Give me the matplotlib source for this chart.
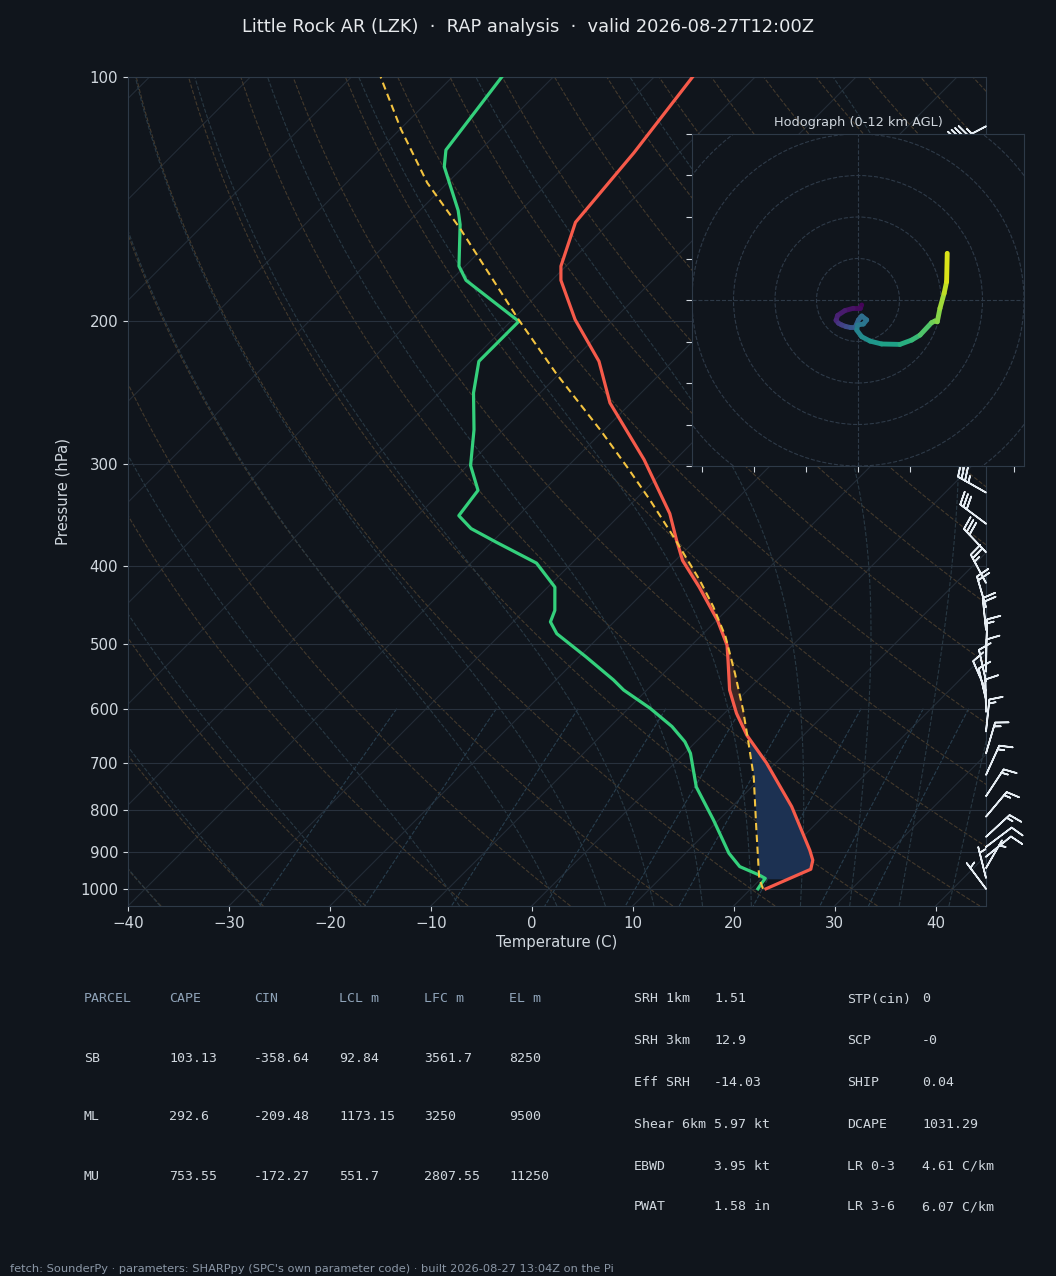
#!/usr/bin/env python3
"""Skew-T + hodograph panel for LZK (RAP analysis, valid 2026-08-27 12Z)."""
import numpy as np
import matplotlib
matplotlib.use("Agg")
import matplotlib.pyplot as plt  # noqa: E402
from matplotlib.collections import LineCollection  # noqa: E402
from matplotlib.patches import Circle  # noqa: E402
from matplotlib.ticker import NullFormatter, NullLocator, ScalarFormatter  # noqa: E402

# ── sounding data ───────────────────────────────────────────────────────────────

TEMP_P = [1000, 946, 922, 896, 792, 700, 647, 608, 569, 523, 501, 467, 425,
          394, 372, 345, 296, 252, 224, 199, 178, 171, 151, 124, 100]
TEMP_C = [21.5, 24.0, 23.3, 22.0, 15.9, 9.1, 4.4, 1.2, -1.8, -4.9, -6.5, -9.9,
          -15.0, -19.3, -21.9, -25.2, -33.1, -42.1, -47.3, -53.8, -59.1, -60.5,
          -63.4, -64.5, -66.2]

DEWP_P = [1000, 983, 971, 962, 939, 904, 823, 749, 681, 659, 631, 599, 569,
          553, 518, 485, 469, 454, 425, 397, 374, 360, 347, 323, 301, 272, 245,
          224, 200, 178, 171, 152, 146, 129, 123, 100]
DEWP_C = [20.7, 20.5, 20.4, 19.5, 16.7, 14.3, 9.5, 4.5, 0.6, -1.1, -3.9, -7.9,
          -12.3, -14.3, -19.3, -24.5, -26.3, -27.0, -29.3, -33.5, -39.6, -43.4,
          -45.9, -46.5, -49.7, -52.9, -56.6, -59.2, -59.2, -68.5, -70.6, -74.6,
          -76.2, -81.9, -83.4, -85.1]

PARCEL_P = [1000, 971, 839, 728, 656, 602, 543, 489, 449, 417, 368, 332, 302,
            272, 232, 199, 154, 135, 116, 100]
PARCEL_C = [21.2, 19.8, 14.4, 9.2, 5.0, 1.5, -2.9, -7.5, -11.7, -15.6, -22.6,
            -28.5, -34.1, -40.4, -50.3, -59.4, -74.1, -82.0, -89.9, -97.1]

# wind profile (kt), heights AGL (km) for the hodograph colouring
WIND_P = [1000, 970, 943, 913, 888, 863, 815, 769, 724, 681, 640, 605, 585,
          570, 555, 540, 510, 480, 450, 420, 385, 355, 325, 295, 285, 275, 255,
          235, 220, 198, 170, 145, 115]
WIND_H = [0.10, 0.35, 0.60, 0.88, 1.12, 1.35, 1.85, 2.30, 2.75, 3.20, 3.65,
          4.10, 4.35, 4.55, 4.75, 4.95, 5.40, 5.85, 6.35, 6.85, 7.50, 8.10,
          8.70, 9.35, 9.55, 9.80, 10.30, 10.85, 11.30, 12.00, 13.0, 14.0, 15.5]
WIND_U = [1.8, 1.0, -2.3, -6.3, -9.8, -10.6, -9.4, -7.9, -5.8, -3.9, -1.4,
          0.2, 1.8, 4.2, 2.6, -0.2, -0.6, 1.8, 5.8, 11.4, 20.2, 25.9, 29.9,
          35.5, 37.1, 38.2, 39.5, 41.5, 42.7, 43.0, 40.0, 39.0, 38.0]
WIND_V = [-2.4, -4.0, -4.0, -5.1, -7.4, -9.8, -11.2, -12.0, -12.8, -13.2,
          -13.2, -9.6, -7.7, -9.6, -11.6, -12.0, -14.5, -17.7, -19.8, -21.2,
          -21.4, -19.3, -16.9, -10.9, -10.1, -10.5, -4.0, 3.2, 8.8, 22.5, 22.0,
          21.0, 20.0]

LFC_P = 640  # CIN shading stops here

PARCEL_COLS = ["PARCEL", "CAPE", "CIN", "LCL m", "LFC m", "EL m"]
PARCEL_ROWS = [
    ["SB", "103.13", "-358.64", "92.84", "3561.7", "8250"],
    ["ML", "292.6", "-209.48", "1173.15", "3250", "9500"],
    ["MU", "753.55", "-172.27", "551.7", "2807.55", "11250"],
]
KINEMATIC = [("SRH 1km", "1.51"), ("SRH 3km", "12.9"), ("Eff SRH", "-14.03"),
             ("Shear 6km", "5.97 kt"), ("EBWD", "3.95 kt"), ("PWAT", "1.58 in")]
COMPOSITE = [("STP(cin)", "0"), ("SCP", "-0"), ("SHIP", "0.04"),
             ("DCAPE", "1031.29"), ("LR 0-3", "4.61 C/km"), ("LR 3-6", "6.07 C/km")]

TITLE = "Little Rock AR (LZK)  \u00b7  RAP analysis  \u00b7  valid 2026-08-27T12:00Z"
FOOTER = ("fetch: SounderPy \u00b7 parameters: SHARPpy (SPC's own parameter code)"
          " \u00b7 built 2026-08-27 13:04Z on the Pi")

# ── style / geometry ────────────────────────────────────────────────────────────

BG = "#10151c"
TXT = "#d0d7de"
MUTED = "#8fa3b8"
GRID = "#28313d"
ISO = "#232c37"
SPINE = "#2e3a48"
W, H = 1056, 1276
AX_BOX = (128, 77, 986, 906)        # left, top, right, bottom in px
P_BOT, P_TOP = 1050.0, 100.0
X_MIN, X_MAX = -40.0, 45.0

ax_w = AX_BOX[2] - AX_BOX[0]
ax_h = AX_BOX[3] - AX_BOX[1]
# 45 degree skew: degC shift per unit ln(p)
K_SKEW = (ax_h / np.log(P_BOT / P_TOP)) / (ax_w / (X_MAX - X_MIN))


def skew(t, p):
    return np.asarray(t, float) + K_SKEW * np.log(P_BOT / np.asarray(p, float))


def moist_dtdp(p, t):
    es = 6.112 * np.exp(17.67 * (t - 273.15) / (t - 29.65))
    rs = 0.622 * es / (p - es)
    num = 287.04 * t + 2.501e6 * rs
    den = 1005.7 + 2.501e6 ** 2 * rs * 0.622 / (287.04 * t * t)
    return num / (den * p)


def moist_adiabats(t0_c, p_end, n=200):
    """RK4 from 1000 hPa to p_end for every start temperature."""
    ps = np.linspace(1000.0, p_end, n)
    t = np.asarray(t0_c, float) + 273.15
    out = [t.copy()]
    for i in range(n - 1):
        p, dp = ps[i], ps[i + 1] - ps[i]
        k1 = moist_dtdp(p, t)
        k2 = moist_dtdp(p + dp / 2, t + dp / 2 * k1)
        k3 = moist_dtdp(p + dp / 2, t + dp / 2 * k2)
        k4 = moist_dtdp(p + dp, t + dp * k3)
        t = t + dp / 6 * (k1 + 2 * k2 + 2 * k3 + k4)
        out.append(t.copy())
    return ps, np.array(out).T - 273.15


# ── skew-T ──────────────────────────────────────────────────────────────────────

def draw_background(ax):
    p = np.geomspace(P_BOT, P_TOP, 120)
    for t0 in range(-160, 50, 10):
        ax.plot(skew(np.full_like(p, t0), p), p, color=ISO, lw=0.8, zorder=1)

    # dry adiabats (T at 1000 hPa)
    for t0 in range(-40, 210, 10):
        t = (t0 + 273.15) * (p / 1000.0) ** 0.2857 - 273.15
        ax.plot(skew(t, p), p, color="#43392c", lw=0.8, ls="--", zorder=1)

    # moist adiabats
    t0s = np.concatenate((np.arange(-40, 0, 10), np.arange(0, 46, 5)))
    pu, tu = moist_adiabats(t0s, P_TOP)
    pd, td = moist_adiabats(t0s, P_BOT, n=20)
    for i in range(len(t0s)):
        pp = np.concatenate((pd[::-1], pu[1:]))
        tt = np.concatenate((td[i][::-1], tu[i][1:]))
        ax.plot(skew(tt, pp), pp, color="#283843", lw=0.8, ls="--", zorder=1)

    # mixing-ratio lines
    pm = np.linspace(600, P_BOT, 40)
    for w in [0.0004, 0.001, 0.002, 0.004, 0.007, 0.01, 0.016, 0.024, 0.032]:
        e = pm * w / (0.622 + w)
        ln = np.log(e / 6.112)
        tdew = 243.5 * ln / (17.67 - ln)
        ax.plot(skew(tdew, pm), pm, color="#283e4e", lw=0.8, ls="--", zorder=1)


def draw_profiles(ax):
    # CAPE / CIN shading between environment and parcel
    pf = np.geomspace(972, 100, 600)
    lp = np.log(pf)
    t_env = np.interp(-lp, -np.log(TEMP_P), TEMP_C)
    t_pcl = np.interp(-lp, -np.log(PARCEL_P), PARCEL_C)
    x_env, x_pcl = skew(t_env, pf), skew(t_pcl, pf)
    ax.fill_betweenx(pf, x_pcl, x_env, where=(t_env > t_pcl) & (pf >= LFC_P),
                     color="#1c3152", lw=0, zorder=2)
    ax.fill_betweenx(pf, x_pcl, x_env, where=t_pcl > t_env,
                     color="#3d2624", lw=0, zorder=2)

    ax.plot(skew(TEMP_C, TEMP_P), TEMP_P, color="#f65a4a", lw=2.3, zorder=4)
    ax.plot(skew(DEWP_C, DEWP_P), DEWP_P, color="#34d07c", lw=2.3, zorder=4)
    ax.plot(skew(PARCEL_C, PARCEL_P), PARCEL_P, color="#f3c340", lw=1.5,
            ls=(0, (3.5, 2.2)), zorder=5)

    ax.barbs(np.ones(len(WIND_P)), WIND_P, WIND_U, WIND_V,
             transform=ax.get_yaxis_transform(), clip_on=False, length=6.8,
             color="#e6edf3", linewidth=1.2, zorder=6)


def setup_axes(fig):
    l, t, r, b = AX_BOX
    ax = fig.add_axes([l / W, 1 - b / H, (r - l) / W, (b - t) / H])
    ax.set_facecolor(BG)
    ax.set_yscale("log")
    ax.set_ylim(P_BOT, P_TOP)
    ax.set_xlim(X_MIN, X_MAX)
    ax.set_yticks(range(100, 1001, 100))
    ax.yaxis.set_major_formatter(ScalarFormatter())
    ax.yaxis.set_minor_locator(NullLocator())
    ax.yaxis.set_minor_formatter(NullFormatter())
    ax.set_xticks(range(-40, 41, 10))
    ax.grid(True, axis="y", color=GRID, lw=0.8)
    ax.tick_params(colors=TXT, labelsize=10.8)
    for s in ax.spines.values():
        s.set_color(SPINE)
    ax.set_xlabel("Temperature (C)", color=TXT, fontsize=10.7, labelpad=3)
    ax.set_ylabel("Pressure (hPa)", color=TXT, fontsize=10.7, labelpad=7)
    return ax


# ── hodograph ───────────────────────────────────────────────────────────────────

def draw_hodograph(fig):
    hax = fig.add_axes([692 / W, 1 - 466 / H, 332 / W, 332 / H])
    hax.set_facecolor(BG)
    for s in hax.spines.values():
        s.set_color(SPINE)
    for r in range(20, 121, 20):
        hax.add_patch(Circle((0, 0), r, fill=False, ec=SPINE, lw=0.8, ls="--"))
    hax.axhline(0, color=SPINE, lw=0.8, ls="--")
    hax.axvline(0, color=SPINE, lw=0.8, ls="--")

    h = np.array(WIND_H)
    keep = h <= 12.0
    u, v, hk = np.array(WIND_U)[keep], np.array(WIND_V)[keep], h[keep]
    pts = np.column_stack([u, v]).reshape(-1, 1, 2)
    segs = np.concatenate([pts[:-1], pts[1:]], axis=1)
    lc = LineCollection(segs, cmap="viridis", norm=plt.Normalize(0, 12),
                        linewidths=3.5, capstyle="round")
    lc.set_array(hk[:-1])
    hax.add_collection(lc)

    hax.set_xlim(-80, 80)
    hax.set_ylim(-80, 80)
    hax.set_xticks(np.arange(-75, 76, 25))
    hax.set_yticks(np.arange(-80, 81, 20))
    hax.tick_params(colors=TXT, length=4, labelbottom=False, labelleft=False)
    hax.set_title("Hodograph (0-12 km AGL)", color=TXT, fontsize=9.3, pad=6)


# ── parameter table ─────────────────────────────────────────────────────────────

def draw_table(fig):
    mono = dict(family="DejaVu Sans Mono", fontsize=9.5, va="center")
    col_x = [84, 169, 254, 339, 424, 509]
    for x, name in zip(col_x, PARCEL_COLS):
        fig.text(x / W, 1 - 999 / H, name, color=MUTED, **mono)
    for row, y in zip(PARCEL_ROWS, [1058, 1117, 1176]):
        for x, val in zip(col_x, row):
            fig.text(x / W, 1 - y / H, val, color=TXT, **mono)

    ys = [999, 1041, 1083, 1124, 1166, 1207]
    for (lab, val), y in zip(KINEMATIC, ys):
        fig.text(634 / W, 1 - y / H, lab, color=TXT, **mono)
        fig.text(714 / W, 1 - y / H, val, color=TXT, **mono)
    for (lab, val), y in zip(COMPOSITE, ys):
        fig.text(847 / W, 1 - y / H, lab, color=TXT, **mono)
        fig.text(922 / W, 1 - y / H, val, color=TXT, **mono)


def main():
    fig = plt.figure(figsize=(W / 100, H / 100), dpi=100, facecolor=BG)
    ax = setup_axes(fig)
    draw_background(ax)
    draw_profiles(ax)
    draw_hodograph(fig)
    draw_table(fig)
    fig.text(0.5, 1 - 27 / H, TITLE, color="#e6e9ec", fontsize=12.9,
             ha="center", va="center")
    fig.text(10 / W, 1 - 1269 / H, FOOTER, color="#8b97a6", fontsize=8.2,
             ha="left", va="center")
    fig.savefig("out.png", dpi=100, facecolor=BG)


if __name__ == "__main__":
    main()
